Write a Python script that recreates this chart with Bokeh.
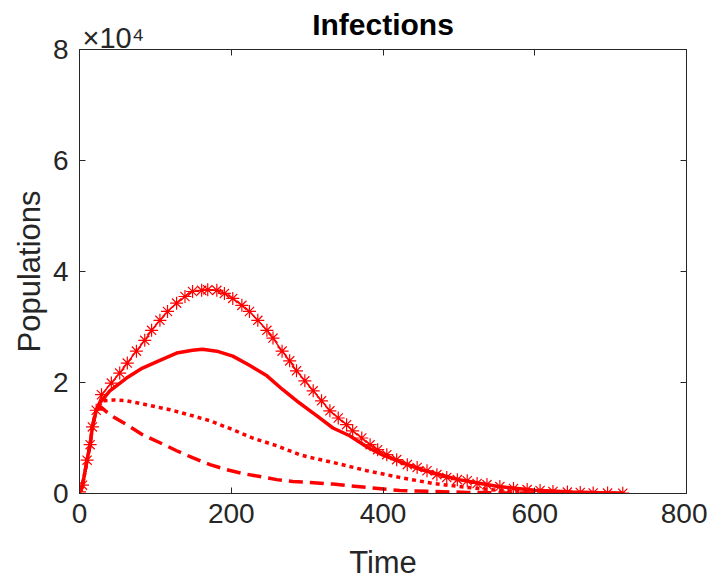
from bokeh.plotting import figure
from bokeh.models import Range1d, LinearAxis, FixedTicker, CustomJSTickFormatter, Title
from bokeh.embed import file_html
from bokeh.resources import INLINE

# ---- data ----
t_star = [0, 4, 10, 14, 17, 22, 29, 42, 53, 63, 75, 86, 95, 106, 116, 128, 139, 149, 161, 169,
          181, 191, 202, 214, 224, 235, 247, 255, 267, 277, 286, 297, 308, 319, 330, 341, 352,
          360, 372, 383, 393, 405, 418, 432, 445, 458, 471, 484, 498, 511, 524, 537, 554, 572,
          590, 607, 624, 643, 660, 677, 696, 716]
v_star = [300, 1500, 6000, 8800, 12000, 15000, 17800, 19900, 21700, 23500, 25650, 27600, 29400,
          31200, 32800, 34300, 35500, 36400, 36600, 36700, 36600, 36050, 35150, 33900, 32800,
          31200, 29400, 28000, 25650, 23900, 22100, 20300, 18500, 16700, 14900, 13600, 12400,
          11300, 10000, 8800, 7900, 7000, 6100, 5200, 4700, 4100, 3400, 2900, 2500, 2300, 1800,
          1600, 1250, 900, 700, 540, 360, 250, 180, 100, 80, 60]

t_solid = [0, 4, 10, 14, 17, 22, 26, 40, 62, 83, 106, 128, 149, 162, 181, 202, 224, 247, 268,
           290, 304, 313, 334, 356, 380, 400, 450, 500, 550, 600, 650, 700, 716]
v_solid = [300, 1500, 6000, 8800, 12000, 15000, 16200, 18500, 20800, 22600, 24000, 25300, 25800,
           26000, 25650, 24750, 23100, 21200, 18700, 16300, 14900, 14000, 11800, 10400, 8300,
           6900, 4300, 2500, 1300, 600, 250, 100, 80]

t_dot = [0, 4, 10, 14, 17, 22, 30, 45, 62, 88, 119, 149, 172, 202, 228, 260, 290, 304, 334, 379,
         422, 466, 511, 554, 600, 650, 700, 716]
v_dot = [300, 1500, 6000, 8800, 12000, 15000, 16700, 16850, 16700, 16000, 15100, 14000, 13100,
         11500, 10000, 8600, 7000, 6500, 5600, 4100, 2900, 1800, 1100, 540, 250, 100, 50, 40]

t_dash = [0, 4, 10, 14, 17, 22, 28, 40, 62, 83, 106, 128, 149, 172, 194, 215, 238, 260, 281, 304,
          334, 379, 422, 466, 511, 554, 600, 650, 700, 716]
v_dash = [300, 1500, 6000, 8800, 12000, 15000, 15600, 14200, 12400, 10600, 9150, 7700, 6450, 5200,
          4300, 3600, 3050, 2500, 2150, 2000, 1700, 1100, 540, 360, 200, 100, 50, 30, 20, 15]

x_ticks = [0, 200, 400, 600, 800]
y_ticks = [0, 20000, 40000, 60000, 80000]

title_text = "Infections"
x_label = "Time"
y_label = "Populations"
y_exponent = "\u00d710\u2074"

RED = "#ff0000"
INK = "#262626"
FONT = "Liberation Sans"

p = figure(width=707, height=582, output_backend="svg", toolbar_location=None,
           x_range=Range1d(0, 800), y_range=Range1d(0, 80000),
           min_border_left=79, min_border_right=21, min_border_top=49, min_border_bottom=87)
p.title = None
p.xgrid.visible = False
p.ygrid.visible = False
p.outline_line_color = INK
p.outline_line_width = 1
p.background_fill_color = "white"
p.border_fill_color = "white"

yfmt = CustomJSTickFormatter(code="return (tick/10000).toString();")
blank = CustomJSTickFormatter(code="return '';")

for ax in p.xaxis:
    ax.ticker = FixedTicker(ticks=x_ticks)
for ax in p.yaxis:
    ax.ticker = FixedTicker(ticks=y_ticks)
    ax.formatter = yfmt

for ax in list(p.xaxis) + list(p.yaxis):
    ax.axis_line_color = INK
    ax.major_tick_line_color = INK
    ax.major_tick_in = 6
    ax.major_tick_out = 0
    ax.minor_tick_line_color = None
    ax.major_label_text_font = FONT
    ax.major_label_text_font_size = "28px"
    ax.major_label_text_color = INK
    ax.axis_label_text_font = FONT
    ax.axis_label_text_font_size = "31px"
    ax.axis_label_text_font_style = "normal"
    ax.axis_label_text_color = INK

p.xaxis.axis_label = x_label
p.yaxis.axis_label = y_label
p.xaxis.major_label_standoff = 10
p.yaxis.major_label_standoff = 11
p.xaxis.axis_label_standoff = 19
p.yaxis.axis_label_standoff = 3

# mirrored ticks on top and right
for loc in ("above", "right"):
    ax = LinearAxis(ticker=FixedTicker(ticks=x_ticks if loc == "above" else y_ticks),
                    formatter=blank)
    ax.axis_line_color = INK
    ax.major_tick_line_color = INK
    ax.major_tick_in = 6
    ax.major_tick_out = 0
    ax.minor_tick_line_color = None
    ax.major_label_standoff = 0
    p.add_layout(ax, loc)

# exponent (left, just above the frame) and the main title
p.add_layout(Title(text=y_exponent, align="left", offset=3, standoff=-8,
                   text_font=FONT, text_font_size="29px", text_font_style="normal",
                   text_color=INK), "above")
p.add_layout(Title(text=title_text, align="center", standoff=-34,
                   text_font=FONT, text_font_size="30px", text_font_style="bold",
                   text_color="black"), "above")

# curves
p.line(t_dash, v_dash, line_color=RED, line_width=3.5, line_dash="14 7")
p.line(t_dot, v_dot, line_color=RED, line_width=3.5, line_dash="4 4")
p.line(t_solid, v_solid, line_color=RED, line_width=3.5)
p.line(t_star, v_star, line_color=RED, line_width=1.5)
p.scatter(t_star, v_star, marker="asterisk", size=13, line_color=RED, line_width=1.2)

open("out.html", "w").write(file_html(p, INLINE))
